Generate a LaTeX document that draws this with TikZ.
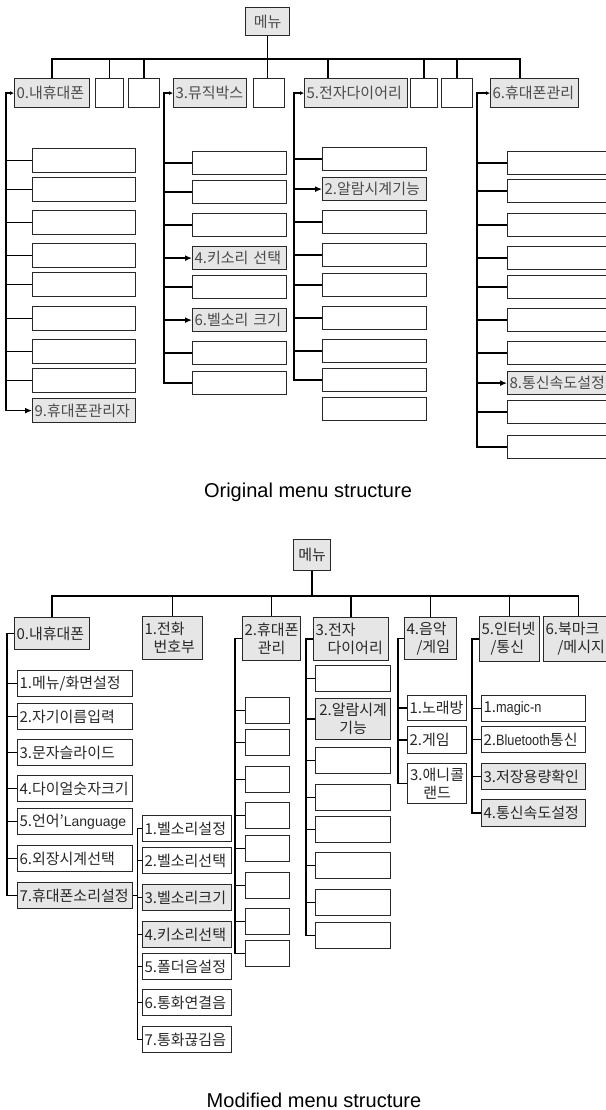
\documentclass[tikz,border=0pt]{standalone}
\usepackage{fontspec}
\setmainfont{Noto Sans CJK KR}
\newfontfamily\latin[FakeStretch=0.85]{Liberation Sans}
\newfontfamily\capfont{Liberation Sans}
\usepackage{tikz}
\usetikzlibrary{arrows.meta, positioning, calc}
\definecolor{boxgray}{RGB}{230, 230, 230}
\definecolor{inkline}{RGB}{40, 40, 40}
\definecolor{origtext}{RGB}{75, 75, 75}
\definecolor{moditext}{RGB}{40, 40, 40}

\begin{document}
\begin{tikzpicture}[x=1pt, y=-1pt,
			cell/.style={rectangle, draw=inkline, line width=1.2pt, anchor=north west, inner xsep=2pt, inner ysep=0pt, align=left, font=\fontsize{15}{18}\selectfont},
			wd/.style={text width=#1},
			ht/.style={minimum height=#1},
			hi/.style={fill=boxgray},
			orig/.style={text=origtext},
			modi/.style={text=moditext},
			link/.style={draw=black, line width=1.3pt},
			tip/.style={-{Latex[length=4pt, width=4pt]}},
			arrow/.style={-{Latex[length=7pt, width=6pt]}},
			both/.style={{Latex[length=7pt, width=6pt]}-{Latex[length=4pt, width=4pt]}},
			caption/.style={anchor=base, font=\capfont\fontsize{20}{24}\selectfont}
		]
		\fill[white] (0,0) rectangle (605,1110);
		\useasboundingbox (0,0) rectangle (605,1110);
		
		% Original structure: top level
		\node[cell, orig, hi, wd=40pt, ht=28pt, align=center] (tm) at (245,7) {메뉴};
		\node[cell, orig, hi, wd=71pt, ht=29pt] (t0) at (14,78) {0.내휴대폰};
		\node[cell, wd=24pt, ht=29pt] (te1) at (95,78) {};
		\node[cell, wd=27pt, ht=29pt] (te2) at (128,78) {};
		\node[cell, orig, hi, wd=69pt, ht=29pt] (t3) at (173,78) {3.뮤직박스};
		\node[cell, wd=27pt, ht=29pt] (te4) at (253,78) {};
		\node[cell, orig, hi, wd=99pt, ht=29pt] (t5) at (304,78) {5.전자다이어리};
		\node[cell, wd=23pt, ht=29pt] (te6) at (410,78) {};
		\node[cell, wd=27pt, ht=29pt] (te7) at (441,78) {};
		\node[cell, orig, hi, wd=84pt, ht=29pt] (t6) at (490,78) {6.휴대폰관리};
		
		% Original structure: 0.내휴대폰
		\node[cell, wd=99pt, ht=24pt] (o1) at (32,148) {};
		\node[cell, wd=99pt, ht=24pt] (o2) at (32,177) {};
		\node[cell, wd=99pt, ht=24pt] (o3) at (32,210) {};
		\node[cell, wd=99pt, ht=24pt] (o4) at (32,243) {};
		\node[cell, wd=99pt, ht=24pt] (o5) at (32,272) {};
		\node[cell, wd=99pt, ht=24pt] (o6) at (32,306) {};
		\node[cell, wd=99pt, ht=24pt] (o7) at (32,339) {};
		\node[cell, wd=99pt, ht=24pt] (o8) at (32,368) {};
		\node[cell, orig, hi, wd=99pt, ht=24pt] (o9) at (32,398) {9.휴대폰관리자};
		
		% Original structure: 3.뮤직박스
		\node[cell, wd=90pt, ht=23pt] (m1) at (192,151) {};
		\node[cell, wd=90pt, ht=23pt] (m2) at (192,180) {};
		\node[cell, wd=90pt, ht=23pt] (m3) at (192,213) {};
		\node[cell, orig, hi, wd=90pt, ht=23pt] (m4) at (192,246) {4.키소리 선택};
		\node[cell, wd=90pt, ht=23pt] (m5) at (192,275) {};
		\node[cell, orig, hi, wd=90pt, ht=23pt] (m6) at (192,308) {6.벨소리 크기};
		\node[cell, wd=90pt, ht=23pt] (m7) at (192,341) {};
		\node[cell, wd=90pt, ht=23pt] (m8) at (192,371) {};
		
		% Original structure: 5.전자다이어리
		\node[cell, wd=100pt, ht=23pt] (e1) at (322,147) {};
		\node[cell, orig, hi, wd=100pt, ht=23pt] (e2) at (322,177) {2.알람시계기능};
		\node[cell, wd=100pt, ht=23pt] (e3) at (322,210) {};
		\node[cell, wd=100pt, ht=23pt] (e4) at (322,243) {};
		\node[cell, wd=100pt, ht=23pt] (e5) at (322,273) {};
		\node[cell, wd=100pt, ht=23pt] (e6) at (322,306) {};
		\node[cell, wd=100pt, ht=23pt] (e7) at (322,339) {};
		\node[cell, wd=100pt, ht=23pt] (e8) at (322,368) {};
		\node[cell, wd=100pt, ht=23pt] (e9) at (322,397) {};
		
		% Original structure: 6.휴대폰관리
		\node[cell, wd=110pt, ht=23pt] (h1) at (507,151) {};
		\node[cell, wd=110pt, ht=23pt] (h2) at (507,179) {};
		\node[cell, wd=110pt, ht=23pt] (h3) at (507,213) {};
		\node[cell, wd=110pt, ht=23pt] (h4) at (507,246) {};
		\node[cell, wd=110pt, ht=23pt] (h5) at (507,275) {};
		\node[cell, wd=110pt, ht=23pt] (h6) at (507,308) {};
		\node[cell, wd=110pt, ht=23pt] (h7) at (507,341) {};
		\node[cell, orig, hi, wd=110pt, ht=23pt] (h8) at (507,371) {8.통신속도설정};
		\node[cell, wd=110pt, ht=23pt] (h9) at (507,400) {};
		\node[cell, wd=110pt, ht=23pt] (h10) at (507,435) {};
		
		% Original structure: links
		\coordinate (tb) at ([yshift=19pt]t0.north);
		\coordinate (t5d) at ([xshift=24pt]t5.north west);
		\coordinate (t6d) at ([xshift=30pt]t6.north west);
		\draw[link] (t0.north) -- (tb) -- (tb -| t6d) -- (t6d);
		\draw[link] (tm.south) -- (tm.south |- te4.north);
		\draw[link] (tb -| te1.north) -- (te1.north);
		\draw[link] (tb -| te2.north) -- (te2.north);
		\draw[link] (tb -| t5d) -- (t5d);
		\draw[link] (tb -| te6.north) -- (te6.north);
		\draw[link] (tb -| te7.north) -- (te7.north);
		
		\coordinate (s0) at ([xshift=-8pt]t0.west);
		\draw[link, both] (o9.west) -| (s0) -- (t0.west);
		\draw[link] (s0 |- o1.west) -- (o1.west);
		\draw[link] (s0 |- o2.west) -- (o2.west);
		\draw[link] (s0 |- o3.west) -- (o3.west);
		\draw[link] (s0 |- o4.west) -- (o4.west);
		\draw[link] (s0 |- o5.west) -- (o5.west);
		\draw[link] (s0 |- o6.west) -- (o6.west);
		\draw[link] (s0 |- o7.west) -- (o7.west);
		\draw[link] (s0 |- o8.west) -- (o8.west);
		
		\coordinate (s3) at ([xshift=-9pt]t3.west);
		\draw[link, tip] (m8.west) -| (s3) -- (t3.west);
		\draw[link] (s3 |- m1.west) -- (m1.west);
		\draw[link] (s3 |- m2.west) -- (m2.west);
		\draw[link] (s3 |- m3.west) -- (m3.west);
		\draw[link, arrow] (s3 |- m4.west) -- (m4.west);
		\draw[link] (s3 |- m5.west) -- (m5.west);
		\draw[link, arrow] (s3 |- m6.west) -- (m6.west);
		\draw[link] (s3 |- m7.west) -- (m7.west);
		
		\coordinate (s5) at ([xshift=-10pt]t5.west);
		\draw[link, tip] (e8.west) -| (s5) -- (t5.west);
		\draw[link] (s5 |- e1.west) -- (e1.west);
		\draw[link, arrow] (s5 |- e2.west) -- (e2.west);
		\draw[link] (s5 |- e3.west) -- (e3.west);
		\draw[link] (s5 |- e4.west) -- (e4.west);
		\draw[link] (s5 |- e5.west) -- (e5.west);
		\draw[link] (s5 |- e6.west) -- (e6.west);
		\draw[link] (s5 |- e7.west) -- (e7.west);
		
		\coordinate (s6) at ([xshift=-13pt]t6.west);
		\draw[link, tip] (h10.west) -| (s6) -- (t6.west);
		\draw[link] (s6 |- h1.west) -- (h1.west);
		\draw[link] (s6 |- h2.west) -- (h2.west);
		\draw[link] (s6 |- h3.west) -- (h3.west);
		\draw[link] (s6 |- h4.west) -- (h4.west);
		\draw[link] (s6 |- h5.west) -- (h5.west);
		\draw[link] (s6 |- h6.west) -- (h6.west);
		\draw[link] (s6 |- h7.west) -- (h7.west);
		\draw[link, arrow] (s6 |- h8.west) -- (h8.west);
		\draw[link] (s6 |- h9.west) -- (h9.west);
		
		\node[caption] (cap1) at (308,497) {Original menu structure};
		
		% Modified structure: top level
		\node[cell, modi, hi, wd=33pt, ht=31pt, align=center] (bm) at (293,539) {메뉴};
		\node[cell, modi, hi, wd=71pt, ht=32pt] (b0) at (14,617) {0.내휴대폰};
		\node[cell, modi, hi, wd=56pt, ht=43pt] (b1) at (142,616) {1.전화\\\hspace*{9pt}번호부};
		\node[cell, modi, hi, wd=54pt, ht=44pt, align=center] (b2) at (242,616) {2.휴대폰\\관리};
		\node[cell, modi, hi, wd=71pt, ht=43pt] (b3) at (313,617) {3.전자\\\hspace*{12pt}다이어리};
		\node[cell, modi, hi, wd=48pt, ht=42pt] (b4) at (404,617) {4.음악\\\hspace*{10pt}/게임};
		\node[cell, modi, hi, wd=56pt, ht=45pt] (b5) at (479,616) {5.인터넷\\\hspace*{9pt}/통신};
		\node[cell, modi, hi, wd=66pt, ht=45pt] (b6) at (543,616) {6.북마크\\\hspace*{12pt}/메시지};
		
		% Modified structure: 0.내휴대폰
		\node[cell, modi, wd=111pt, ht=26pt] (c1) at (17,670) {1.메뉴/화면설정};
		\node[cell, modi, wd=111pt, ht=26pt] (c2) at (17,703) {2.자기이름입력};
		\node[cell, modi, wd=111pt, ht=26pt] (c3) at (17,739) {3.문자슬라이드};
		\node[cell, modi, wd=111pt, ht=26pt] (c4) at (17,775) {4.다이얼숫자크기};
		\node[cell, modi, wd=111pt, ht=26pt] (c5) at (17,808) {5.언어'{\capfont\fontsize{14}{17}\selectfont Language}};
		\node[cell, modi, wd=111pt, ht=26pt] (c6) at (17,845) {6.외장시계선택};
		\node[cell, modi, hi, wd=111pt, ht=26pt] (c7) at (17,882) {7.휴대폰소리설정};
		
		% Modified structure: 7.휴대폰소리설정
		\node[cell, modi, wd=85pt, ht=26pt] (d1) at (142,815) {1.벨소리설정};
		\node[cell, modi, wd=85pt, ht=26pt] (d2) at (142,847) {2.벨소리선택};
		\node[cell, modi, hi, wd=85pt, ht=26pt] (d3) at (142,884) {3.벨소리크기};
		\node[cell, modi, hi, wd=85pt, ht=26pt] (d4) at (142,921) {4.키소리선택};
		\node[cell, modi, wd=85pt, ht=26pt] (d5) at (142,953) {5.폴더음설정};
		\node[cell, modi, wd=85pt, ht=26pt] (d6) at (142,989) {6.통화연결음};
		\node[cell, modi, wd=85pt, ht=26pt] (d7) at (142,1026) {7.통화끊김음};
		
		% Modified structure: 2.휴대폰관리
		\node[cell, wd=40pt, ht=26pt] (k1) at (245,697) {};
		\node[cell, wd=40pt, ht=26pt] (k2) at (245,729) {};
		\node[cell, wd=40pt, ht=26pt] (k3) at (245,766) {};
		\node[cell, wd=40pt, ht=26pt] (k4) at (245,802) {};
		\node[cell, wd=40pt, ht=26pt] (k5) at (245,835) {};
		\node[cell, wd=40pt, ht=26pt] (k6) at (245,872) {};
		\node[cell, wd=40pt, ht=26pt] (k7) at (245,908) {};
		\node[cell, wd=40pt, ht=26pt] (k8) at (245,940) {};
		
		% Modified structure: 3.전자다이어리
		\node[cell, wd=71pt, ht=26pt] (a1) at (315,665) {};
		\node[cell, modi, hi, wd=71pt, ht=41pt, align=center] (a2) at (315,698) {2.알람시계\\기능};
		\node[cell, wd=71pt, ht=26pt] (a3) at (315,747) {};
		\node[cell, wd=71pt, ht=26pt] (a4) at (315,784) {};
		\node[cell, wd=71pt, ht=26pt] (a5) at (315,816) {};
		\node[cell, wd=71pt, ht=26pt] (a6) at (315,852) {};
		\node[cell, wd=71pt, ht=26pt] (a7) at (315,889) {};
		\node[cell, wd=71pt, ht=26pt] (a8) at (315,922) {};
		
		% Modified structure: 4.음악/게임
		\node[cell, modi, wd=55pt, ht=25pt] (g1) at (407,695) {1.노래방};
		\node[cell, modi, wd=55pt, ht=27pt] (g2) at (407,726) {2.게임};
		\node[cell, modi, wd=55pt, ht=40pt, align=center] (g3) at (407,763) {3.애니콜\\랜드};
		
		% Modified structure: 5.인터넷/통신
		\node[cell, modi, wd=100pt, ht=26pt] (n1) at (481,695) {1.{\latin magic-n}};
		\node[cell, modi, wd=100pt, ht=26pt] (n2) at (481,726) {2.{\latin Bluetooth}통신};
		\node[cell, modi, hi, wd=100pt, ht=26pt] (n3) at (481,763) {3.저장용량확인};
		\node[cell, modi, hi, wd=100pt, ht=27pt] (n4) at (481,799) {4.통신속도설정};
		
		% Modified structure: links
		\coordinate (bb) at ([yshift=21pt]b0.north);
		\draw[link] (b0.north) -- (bb) -- (bb -| b6.north) -- (b6.north);
		\draw[link] (bm.south) -- (bm.south |- bb);
		\draw[link] (bb -| b1.north) -- (b1.north);
		\draw[link] (bb -| b2.north) -- (b2.north);
		\draw[link] (bb -| b3.north) -- (b3.north);
		\draw[link] (bb -| b4.north) -- (b4.north);
		\draw[link] (bb -| b5.north) -- (b5.north);
		
		\coordinate (p0) at ([xshift=-7pt]b0.west);
		\draw[link] (b0.west) -- (p0) |- (c7.west);
		\draw[link] (p0 |- c1.west) -- (c1.west);
		\draw[link] (p0 |- c2.west) -- (c2.west);
		\draw[link] (p0 |- c3.west) -- (c3.west);
		\draw[link] (p0 |- c4.west) -- (c4.west);
		\draw[link] (p0 |- c5.west) -- (c5.west);
		\draw[link] (p0 |- c6.west) -- (c6.west);
		
		\coordinate (pb) at ([xshift=4pt]c7.east);
		\draw[link] (c7.east) -- (pb);
		\draw[link] (d1.west) -| (pb) |- (d7.west);
		\draw[link] (pb |- d2.west) -- (d2.west);
		\draw[link] (pb |- d3.west) -- (d3.west);
		\draw[link] (pb |- d4.west) -- (d4.west);
		\draw[link] (pb |- d5.west) -- (d5.west);
		\draw[link] (pb |- d6.west) -- (d6.west);
		
		\coordinate (p2) at ([xshift=-7pt]b2.west);
		\draw[link] (b2.west) -- (p2) |- (k8.west);
		\draw[link] (p2 |- k1.west) -- (k1.west);
		\draw[link] (p2 |- k2.west) -- (k2.west);
		\draw[link] (p2 |- k3.west) -- (k3.west);
		\draw[link] (p2 |- k4.west) -- (k4.west);
		\draw[link] (p2 |- k5.west) -- (k5.west);
		\draw[link] (p2 |- k6.west) -- (k6.west);
		\draw[link] (p2 |- k7.west) -- (k7.west);
		
		\coordinate (p3) at ([xshift=-7pt]b3.west);
		\draw[link] (b3.west) -- (p3) |- (a8.west);
		\draw[link] (p3 |- a1.west) -- (a1.west);
		\draw[link] (p3 |- a2.west) -- (a2.west);
		\draw[link] (p3 |- a3.west) -- (a3.west);
		\draw[link] (p3 |- a4.west) -- (a4.west);
		\draw[link] (p3 |- a5.west) -- (a5.west);
		\draw[link] (p3 |- a6.west) -- (a6.west);
		\draw[link] (p3 |- a7.west) -- (a7.west);
		
		\coordinate (p4) at ([xshift=-6pt]b4.west);
		\draw[link] (b4.west) -- (p4) |- (g3.west);
		\draw[link] (p4 |- g1.west) -- (g1.west);
		\draw[link] (p4 |- g2.west) -- (g2.west);
		
		\coordinate (p5) at ([xshift=-7pt]b5.west);
		\draw[link] (b5.west) -- (p5) |- (n4.west);
		\draw[link] (p5 |- n1.west) -- (n1.west);
		\draw[link] (p5 |- n2.west) -- (n2.west);
		\draw[link] (p5 |- n3.west) -- (n3.west);
		
		\node[caption] (cap2) at (314,1107) {Modified menu structure};
		\end{tikzpicture}
\end{document}
